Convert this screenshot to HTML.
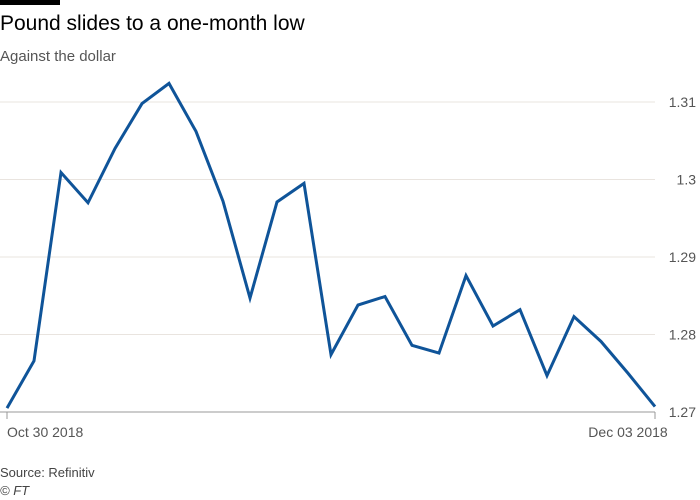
<!DOCTYPE html>
<html><head><meta charset="utf-8"><style>
body{margin:0;background:#fff;width:700px;height:500px;overflow:hidden;font-family:"Liberation Sans",sans-serif;}
#bar{position:absolute;left:0;top:0;width:60px;height:5px;background:#000;}
#title{position:absolute;left:0;top:12px;font-size:21px;color:#000;}
#sub{position:absolute;left:0;top:48px;font-size:15px;color:#555;}
#src{position:absolute;left:0;top:465px;font-size:13px;color:#444;}
#ft{position:absolute;left:0;top:483px;font-size:13px;color:#444;font-style:italic;}
svg{position:absolute;left:0;top:0;}
</style></head><body>
<div id="bar"></div>
<div id="title">Pound slides to a one-month low</div>
<div id="sub">Against the dollar</div>
<svg id="chart" width="700" height="500"></svg>
<div id="src">Source: Refinitiv</div>
<div id="ft">© FT</div>
<script>
const values=[1.2705,1.2766,1.3009,1.2970,1.3040,1.3098,1.3124,1.3062,1.2972,1.2847,1.2971,1.2995,1.2774,1.2838,1.2849,1.2786,1.2776,1.2876,1.2811,1.2832,1.2747,1.2823,1.2791,1.2750,1.2707];
const yTicks=[1.27,1.28,1.29,1.30,1.31];
const yTickLabels=["1.27","1.28","1.29","1.3","1.31"];
const xLabels=["Oct 30 2018","Dec 03 2018"];
const xLabelIdx=[0,24];
const NS="http://www.w3.org/2000/svg";
const svg=document.getElementById('chart');
const x0=7,x1=655,yBase=412,pxPer=7750;
const xs=i=>x0+(x1-x0)*i/(values.length-1);
const ys=v=>yBase-(v-1.27)*pxPer;
function mk(t,a){const e=document.createElementNS(NS,t);for(const k in a)e.setAttribute(k,a[k]);svg.appendChild(e);return e;}
yTicks.forEach((v,i)=>{
  const g=mk('line',{x1:0,x2:655,y1:ys(v),y2:ys(v),stroke:i===0?'#999':'#e9e4df','stroke-width':1});
  
  
  const t=mk('text',{x:696,y:ys(v)+5,'text-anchor':'end','font-size':14,fill:'#555','font-family':'Liberation Sans, sans-serif'});
  t.textContent=yTickLabels[i];
  
  
});
xLabelIdx.forEach((idx,i)=>{
  const tk=mk('line',{x1:xs(idx),x2:xs(idx),y1:yBase,y2:yBase+7,stroke:'#999'});
  
  
  const t=mk('text',{x:i===0?7:xs(idx)-27,y:yBase+25,'font-size':14,fill:'#555','font-family':'Liberation Sans, sans-serif','text-anchor':i===0?'start':'middle'});
  t.textContent=xLabels[i];
  
  
});
const p=mk('polyline',{points:values.map((v,i)=>xs(i)+','+ys(v)).join(' '),fill:'none',stroke:'#0f5499','stroke-width':3,'stroke-linejoin':'miter'});


</script>
</body></html>
